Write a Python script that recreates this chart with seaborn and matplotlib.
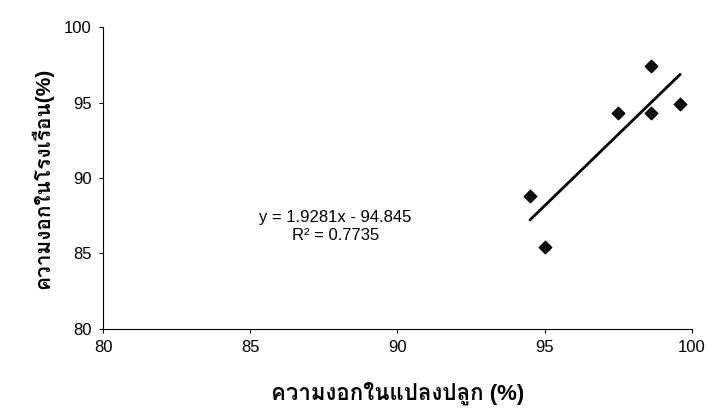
import matplotlib
matplotlib.use("Agg")
import matplotlib.pyplot as plt
import seaborn as sns
import pandas as pd

# germination in field plot (%) vs greenhouse (%)
field_pct = [94.5, 95.0, 97.5, 98.6, 98.6, 99.6]
greenhouse_pct = [88.8, 85.4, 94.3, 97.4, 94.3, 94.9]
x_ticks = [80, 85, 90, 95, 100]
y_ticks = [80, 85, 90, 95, 100]
eq_text = "y = 1.9281x - 94.845\nR² = 0.7735"
x_label = "ความงอกในแปลงปลูก (%)"
y_label = "ความงอกในโรงเรือน(%)"

df = pd.DataFrame({"field": field_pct, "greenhouse": greenhouse_pct})

sns.set_style("ticks")
plt.rcParams['font.family'] = ['Liberation Sans', 'Loma', 'DejaVu Sans']
plt.rcParams['text.color'] = 'black'
plt.rcParams['axes.labelcolor'] = 'black'

fig = plt.figure(figsize=(7.13, 4.20), dpi=100)
ax = fig.add_axes([0.1445, 0.2167, 0.826, 0.719])

sns.regplot(data=df, x="field", y="greenhouse", ax=ax, ci=None, truncate=True,
            marker="D",
            scatter_kws={"s": 40, "color": "#111111", "edgecolors": "black",
                         "linewidths": 1, "alpha": 1},
            line_kws={"color": "black", "linewidth": 2})

ax.set_xlim(80, 100)
ax.set_ylim(80, 100)
ax.set_xticks(x_ticks)
ax.set_yticks(y_ticks)
ax.tick_params(labelsize=12, length=3, width=0.8, colors="black", pad=5)
for s in ["left", "bottom"]:
    ax.spines[s].set_linewidth(0.8)
    ax.spines[s].set_color("black")
sns.despine(ax=ax)

ax.text(87.9, 86.8, eq_text, ha="center", va="center", fontsize=12)

ax.set_xlabel(x_label, fontsize=16, fontweight="bold", labelpad=19)
ax.set_ylabel(y_label, fontsize=15, fontweight="bold", labelpad=8)

fig.savefig("out.png", dpi=100)
